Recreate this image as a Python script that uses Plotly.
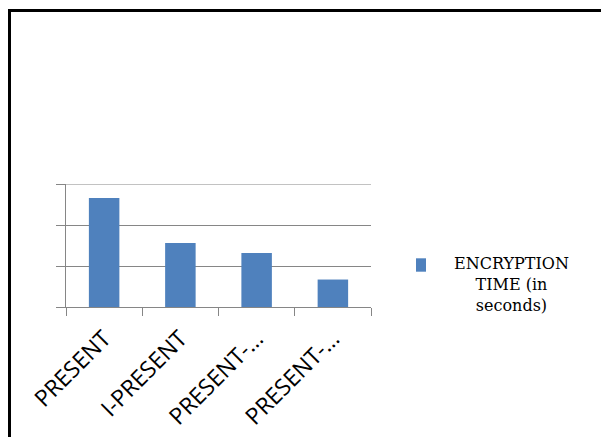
import plotly.graph_objects as go

categories = ["PRESENT", "I-PRESENT", "PRESENT-A", "PRESENT-B"]
tick_labels = ["PRESENT", "I-PRESENT", "PRESENT-…", "PRESENT-…"]
encryption_time = [2.66, 1.56, 1.32, 0.67]
y_ticks = [0, 1, 2, 3]
series_name = "ENCRYPTION<br>TIME (in<br>seconds)"

W, H = 601, 437
ML, MR, MT, MB = 66, 230, 184, 130
PW, PH = W - ML - MR, H - MT - MB

def px(x):
    return (x - ML) / PW

def py(y):
    return (H - MB - y) / PH

GRID = "#868686"
BLUE = "#4F81BD"

fig = go.Figure(go.Bar(
    x=categories, y=encryption_time, marker=dict(color=BLUE, line=dict(width=0)),
    showlegend=False, name="ENCRYPTION TIME (in seconds)",
))

fig.update_layout(
    width=W, height=H,
    margin=dict(l=ML, r=MR, t=MT, b=MB),
    paper_bgcolor="white", plot_bgcolor="white",
    bargap=0.6,
    xaxis=dict(
        tickmode="array", tickvals=categories, ticktext=tick_labels,
        tickangle=-45, tickson="boundaries", ticks="outside", ticklen=8,
        tickcolor=GRID, showline=True, linecolor=GRID, linewidth=1,
        showgrid=False, ticklabelstandoff=8, automargin=False,
        tickfont=dict(family="Open Sans", size=23, color="black"),
    ),
    yaxis=dict(
        range=[y_ticks[0], y_ticks[-1]], tickvals=y_ticks, showticklabels=False,
        ticks="outside", ticklen=9, automargin=False,
        tickcolor=GRID, showline=True, linecolor=GRID, linewidth=1,
        showgrid=True, gridcolor=GRID, gridwidth=1, zeroline=False,
    ),
    shapes=[
        dict(type="line", xref="paper", yref="y",
             x0=0, x1=1, y0=y_ticks[-1], y1=y_ticks[-1],
             line=dict(color=GRID, width=1), layer="below"),
        dict(type="rect", xref="paper", yref="paper",
             x0=px(9.5), x1=px(640), y0=py(10.5), y1=py(480),
             line=dict(color="black", width=3), fillcolor="rgba(0,0,0,0)"),
        dict(type="rect", xref="paper", yref="paper",
             x0=px(416), x1=px(426), y0=py(271.7), y1=py(258.3),
             line=dict(width=0), fillcolor=BLUE),
    ],
    annotations=[
        dict(text=series_name, xref="paper", yref="paper",
             x=px(511), y=py(284), xanchor="center", yanchor="middle",
             align="center", showarrow=False,
             font=dict(family="DejaVu Serif", size=16, color="black")),
    ],
)

fig.write_html("out.html")
